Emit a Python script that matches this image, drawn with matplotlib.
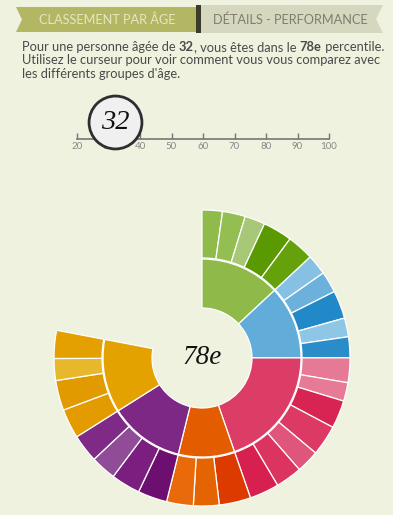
import matplotlib
matplotlib.use("Agg")
import matplotlib.pyplot as plt
from matplotlib.patches import Polygon, Rectangle
import numpy as np

# ---------------- data ----------------
percentile = 78
age = 32
slider_ticks = [20, 30, 40, 50, 60, 70, 80, 90, 100]

group_names = ["vert", "bleu", "rose", "orange", "violet", "jaune"]
group_colors = ["#8fba4a", "#62acd9", "#dc3d67", "#e35d00", "#7e2885", "#e3a200"]

green_vals = [8, 9, 8, 11.5, 10.5]
blue_vals = [8, 8.4, 11, 7.4, 8.2]
pink_vals = [9.7, 7.3, 11, 12, 9, 10.4, 11.6]
orange_vals = [12.4, 10.1, 10.5]
purple_vals = [11.5, 11.5, 10, 11]
yellow_vals = [11.6, 11.8, 8.6, 11]

green_cols = ["#8fbb4b", "#93be52", "#a7c877", "#5a9900", "#65a10a"]
blue_cols = ["#86c1e3", "#6cb1dc", "#2289c9", "#8ec6e6", "#2a8dc9"]
pink_cols = ["#e67a94", "#e77a94", "#d82452", "#dc3a64", "#e0557a", "#dc3461", "#d7204f"]
orange_cols = ["#dd3a00", "#e36400", "#e86a0a"]
purple_cols = ["#6c0f70", "#7b1e7f", "#914c98", "#7e2a86"]
yellow_cols = ["#e39b00", "#e19a00", "#e8b82c", "#e3a000"]

tab_labels = ["CLASSEMENT PAR ÂGE", "DÉTAILS - PERFORMANCE"]

# ---------------- figure ----------------
BG = "#eef2de"
W, H = 393, 515
fig = plt.figure(figsize=(W / 100, H / 100), dpi=100)
fig.patch.set_facecolor(BG)

FONT = ["Lato", "DejaVu Sans"]

# pixel overlay axes
ax = fig.add_axes([0, 0, 1, 1])
ax.set_xlim(0, W)
ax.set_ylim(H, 0)
ax.axis("off")
ax.set_facecolor(BG)

# tabs
ax.add_patch(Polygon([(16, 7), (197, 7), (197, 32), (16, 32), (22, 19.5)],
                     closed=True, facecolor="#b3b763", edgecolor="none"))
ax.add_patch(Polygon([(201, 5), (383, 5), (376, 19), (383, 33), (201, 33)],
                     closed=True, facecolor="#d6d7bf", edgecolor="none"))
ax.add_patch(Rectangle((196, 5), 5, 28, facecolor="#3b3b2c", edgecolor="none"))
ax.text(107, 20, tab_labels[0], fontsize=9.2, color="#e4e7c2", ha="center", va="center",
        family=FONT)
ax.text(290, 20, tab_labels[1], fontsize=9.2, color="#7e7e6c", ha="center", va="center",
        family=FONT)

# paragraph with bold parts
TXT = "#4a4a4a"
fs = 9.3
def chain(parts, x, y):
    t = ax.text(x, y, parts[0][0], fontsize=fs, color=TXT, family=FONT,
                fontweight=parts[0][1], ha="left", va="baseline")
    for s, w in parts[1:]:
        t = ax.annotate(s, xy=(1, 0), xycoords=t, fontsize=fs, color=TXT, family=FONT,
                        fontweight=w, ha="left", va="bottom")
    return t

chain([("Pour une personne âgée de ", "normal"), (f"{age}", "bold"),
       (", vous êtes dans le ", "normal"), (f"{percentile}e", "bold"),
       (" percentile.", "normal")], 22, 51)
ax.text(22, 64.5, "Utilisez le curseur pour voir comment vous vous comparez avec",
        fontsize=fs, color=TXT, family=FONT, va="baseline")
ax.text(22, 78, "les différents groupes d'âge.", fontsize=fs, color=TXT, family=FONT,
        va="baseline")

# ---------------- slider ----------------
sx0, sx1, sy = 77, 329, 139
ax_s = fig.add_axes([sx0 / W, (H - sy) / H, (sx1 - sx0) / W, 40 / H])
ax_s.set_xlim(slider_ticks[0], slider_ticks[-1])
ax_s.set_ylim(0, 1)
ax_s.patch.set_alpha(0)
for sp in ["top", "left", "right"]:
    ax_s.spines[sp].set_visible(False)
ax_s.spines["bottom"].set_color("#777777")
ax_s.spines["bottom"].set_linewidth(1.2)
ax_s.set_yticks([])
ax_s.set_xticks(slider_ticks)
ax_s.set_xticklabels([str(v) for v in slider_ticks])
ax_s.tick_params(axis="x", direction="in", length=4, width=1, color="#777777",
                 labelsize=7, labelcolor="#888888", pad=2)
for lab in ax_s.get_xticklabels():
    lab.set_family(FONT)
ax_s.scatter([age], [0.42], s=1450, facecolor="#f0f0f0", edgecolor="#2e2e2e",
             linewidth=2.0, zorder=5, clip_on=False)
ax_s.text(age, 0.42, f"{age}", fontsize=20.5, style="italic", family="Liberation Serif",
          ha="center", va="center", color="#111111", zorder=6)

# ---------------- sunburst ----------------
cx, cy, R = 202, 358, 150
ax_p = fig.add_axes([(cx - R) / W, (H - cy - R) / H, 2 * R / W, 2 * R / H])

outer_groups = [green_vals, blue_vals, pink_vals, orange_vals, purple_vals, yellow_vals]
outer_colgroups = [green_cols, blue_cols, pink_cols, orange_cols, purple_cols, yellow_cols]
outer_vals = [v for g in outer_groups for v in g]
outer_cols = [c for g in outer_colgroups for c in g]
inner_vals = [sum(g) for g in outer_groups]

total = sum(outer_vals)
frac = percentile / 100.0
scale = frac / total
outer_f = [v * scale for v in outer_vals] + [1 - frac]
inner_f = [v * scale for v in inner_vals] + [1 - frac]

wp = dict(edgecolor="white", linewidth=0.9)
w_out, _ = ax_p.pie(outer_f, colors=outer_cols + ["none"], radius=148, startangle=90,
                    counterclock=False, normalize=False, center=(0, 0),
                    wedgeprops=dict(width=48, **wp), frame=True)
w_in, _ = ax_p.pie(inner_f, colors=group_colors + ["none"], radius=99, startangle=90,
                   counterclock=False, normalize=False, center=(0, 0),
                   wedgeprops=dict(width=49, **wp), frame=True)
w_out[-1].set_visible(False)
w_in[-1].set_visible(False)
ax_p.set_xlim(-R, R)
ax_p.set_ylim(-R, R)
ax_p.axis("off")
ax_p.set_aspect("auto")

ax_p.text(0, 0, f"{percentile}e", fontsize=19.5, style="italic", family="Liberation Serif",
          ha="center", va="center", color="#111111")

fig.savefig("out.png", dpi=100, facecolor=BG)
